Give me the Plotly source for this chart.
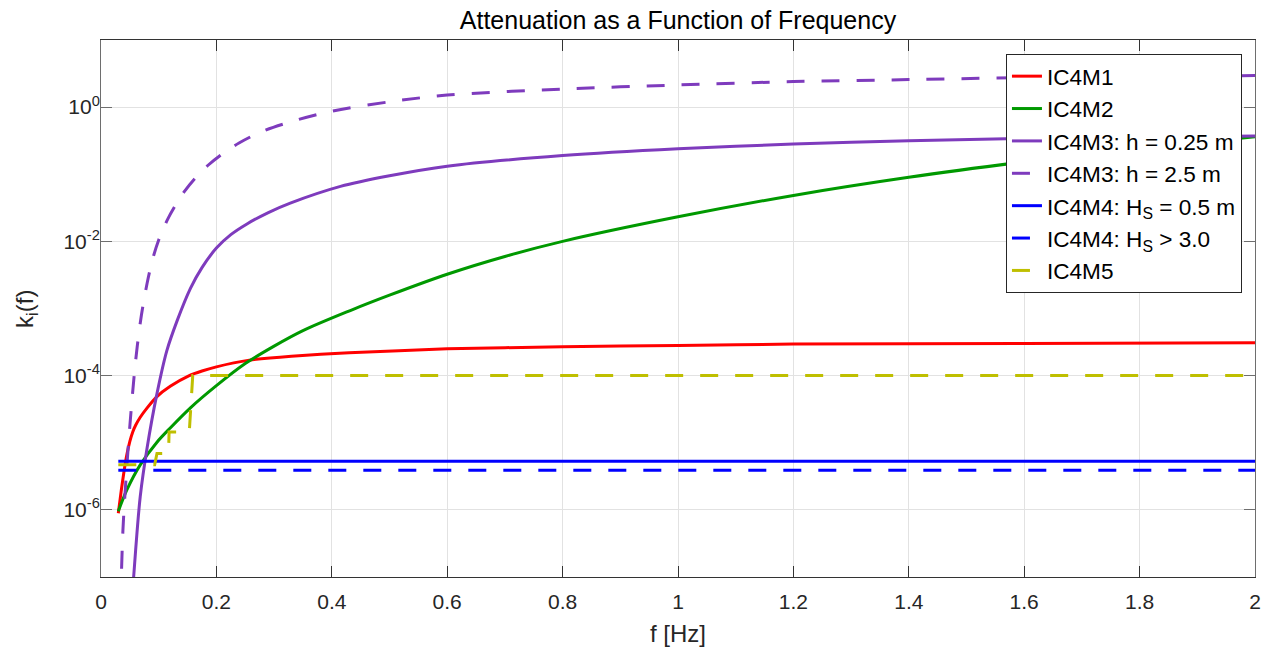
import plotly.graph_objects as go

# ---------------- data ----------------
f_m1 = [0.03, 0.035, 0.04, 0.045, 0.05, 0.055, 0.06, 0.068, 0.08, 0.096, 0.12, 0.153, 0.175, 0.2, 0.23, 0.257, 0.33, 0.43, 0.6, 0.8, 1.0, 1.2, 1.6, 2.0]
k_m1 = [8.9e-7, 1.91e-6, 3.8e-6, 6.76e-6, 1.05e-5, 1.45e-5, 1.82e-5, 2.4e-5, 3.31e-5, 4.79e-5, 6.92e-5, 1.0e-4, 1.17e-4, 1.35e-4, 1.55e-4, 1.70e-4, 1.95e-4, 2.19e-4, 2.51e-4, 2.69e-4, 2.82e-4, 2.95e-4, 3.02e-4, 3.09e-4]

f_m2 = [0.03, 0.045, 0.068, 0.097, 0.12, 0.155, 0.2, 0.25, 0.3, 0.35, 0.432, 0.5, 0.6, 0.7, 0.8, 1.0, 1.2, 1.4, 1.6, 1.8, 2.0]
k_m2 = [9.55e-7, 2.0e-6, 4.68e-6, 1.02e-5, 1.66e-5, 3.31e-5, 7.08e-5, 1.51e-4, 2.75e-4, 4.68e-4, 9.33e-4, 1.58e-3, 3.24e-3, 5.96e-3, 1.0e-2, 2.32e-2, 4.84e-2, 9.02e-2, 0.153, 0.243, 0.363]

f_m3a = [0.054, 0.06, 0.068, 0.08, 0.097, 0.114, 0.132, 0.155, 0.175, 0.2, 0.225, 0.253, 0.29, 0.328, 0.415, 0.5, 0.6, 0.8, 1.0, 1.2, 1.4, 1.6, 2.0]
k_m3a = [5.0e-8, 2.5e-7, 1.58e-6, 8.5e-6, 5.4e-5, 2.34e-4, 6.6e-4, 2.0e-3, 4.07e-3, 7.94e-3, 1.26e-2, 1.82e-2, 2.69e-2, 3.72e-2, 6.6e-2, 9.5e-2, 0.132, 0.19, 0.24, 0.282, 0.316, 0.343, 0.372]

f_m3b = [0.034, 0.038, 0.044, 0.05, 0.058, 0.063, 0.07, 0.08, 0.09, 0.1, 0.115, 0.13, 0.145, 0.165, 0.185, 0.21, 0.24, 0.28, 0.34, 0.4, 0.5, 0.6, 0.8, 1.0, 1.2, 1.4, 1.6, 2.0]
k_m3b = [4.0e-8, 5.0e-7, 3.55e-6, 1.78e-5, 1.12e-4, 2.82e-4, 7.94e-4, 2.40e-3, 5.62e-3, 1.05e-2, 2.09e-2, 3.55e-2, 5.62e-2, 9.12e-2, 0.135, 0.20, 0.295, 0.437, 0.646, 0.871, 1.20, 1.51, 1.86, 2.14, 2.40, 2.57, 2.75, 2.95]

f_m4 = [0.03, 2.0]
k_m4_a = [5.3e-6, 5.3e-6]
k_m4_b = [3.9e-6, 3.9e-6]

f_m5 = [0.03, 0.093, 0.097, 0.117, 0.118, 0.153, 0.159, 2.0]
k_m5 = [4.7e-6, 4.7e-6, 6.9e-6, 6.9e-6, 1.45e-5, 1.45e-5, 1.0e-4, 1.0e-4]

names = ["IC4M1", "IC4M2", "IC4M3: h = 0.25 m", "IC4M3: h = 2.5 m",
         "IC4M4: H<sub>S</sub> = 0.5 m", "IC4M4: H<sub>S</sub> &gt; 3.0", "IC4M5"]

x_tickvals = [0, 0.2, 0.4, 0.6, 0.8, 1, 1.2, 1.4, 1.6, 1.8, 2]
x_ticktext = ["0", "0.2", "0.4", "0.6", "0.8", "1", "1.2", "1.4", "1.6", "1.8", "2"]
y_tickvals = [1e-6, 1e-4, 1e-2, 1]
y_ticktext = ["10<sup>-6</sup>", "10<sup>-4</sup>", "10<sup>-2</sup>", "10<sup>0</sup>"]

# ---------------- figure ----------------
FONT = "Liberation Sans, Arial, sans-serif"
DASH = "18px,17px"
RED, GREEN, PURPLE, BLUE, YELLOW = "#ff0000", "#009900", "#7e3bbd", "#0000ff", "#bfbf00"

fig = go.Figure()
series = [
    (f_m1, k_m1, RED, "solid", "spline", 0.5),
    (f_m2, k_m2, GREEN, "solid", "spline", 0.9),
    (f_m3a, k_m3a, PURPLE, "solid", "spline", 0.9),
    (f_m3b, k_m3b, PURPLE, DASH, "spline", 0.9),
    (f_m4, k_m4_a, BLUE, "solid", "linear", None),
    (f_m4, k_m4_b, BLUE, DASH, "linear", None),
    (f_m5, k_m5, YELLOW, DASH, "linear", None),
]
for (xs, ys, col, dash, shape, sm), nm in zip(series, names):
    line = dict(color=col, width=3, dash=dash, shape=shape)
    if sm is not None:
        line["smoothing"] = sm
    fig.add_trace(go.Scatter(x=xs, y=ys, mode="lines", name=nm, line=line))

axis_common = dict(
    showgrid=True, gridcolor="#e2e2e2", gridwidth=1,
    showline=True, linewidth=1, mirror="ticks",
    ticks="inside", ticklen=11, tickwidth=1,
    tickfont=dict(family=FONT, size=21, color="#262626"),
    zeroline=False,
)
fig.update_xaxes(range=[0, 2], tickmode="array", tickvals=x_tickvals, ticktext=x_ticktext,
                 linecolor="#333333", tickcolor="#333333", ticklabelstandoff=6, **axis_common)
fig.update_yaxes(type="log", range=[-7, 1], tickmode="array", tickvals=y_tickvals, ticktext=y_ticktext,
                 linecolor="#6e6e6e", tickcolor="#6e6e6e", ticklabelstandoff=-4, **axis_common)

fig.update_layout(
    width=1270, height=647,
    margin=dict(l=101, r=15, t=40, b=70, autoexpand=False),
    paper_bgcolor="white", plot_bgcolor="white",
    font=dict(family=FONT, color="#262626"),
    title=dict(text="Attenuation as a Function of Frequency", x=0.5, xref="paper",
               y=1 - 20 / 647, yref="container", yanchor="middle", xanchor="center",
               font=dict(family=FONT, size=25, color="#000000")),
    legend=dict(x=0.9887, y=0.974, xanchor="right", yanchor="top",
                bgcolor="white", bordercolor="#262626", borderwidth=1,
                font=dict(family=FONT, size=22.6, color="#000000"),
                tracegroupgap=0),
    showlegend=True,
)

fig.add_annotation(text="f [Hz]", xref="paper", yref="paper", x=0.5, y=-0.105,
                   xanchor="center", yanchor="middle", showarrow=False,
                   font=dict(family=FONT, size=24, color="#262626"))
fig.add_annotation(text="k<sub>i</sub>(f)", xref="paper", yref="paper", x=-0.0646, y=0.5,
                   xanchor="center", yanchor="middle", showarrow=False, textangle=-90,
                   font=dict(family=FONT, size=24, color="#262626"))

fig.write_html("out.html", config={"displayModeBar": False},
               post_script="document.body.style.margin='0';document.body.style.overflow='hidden';")
